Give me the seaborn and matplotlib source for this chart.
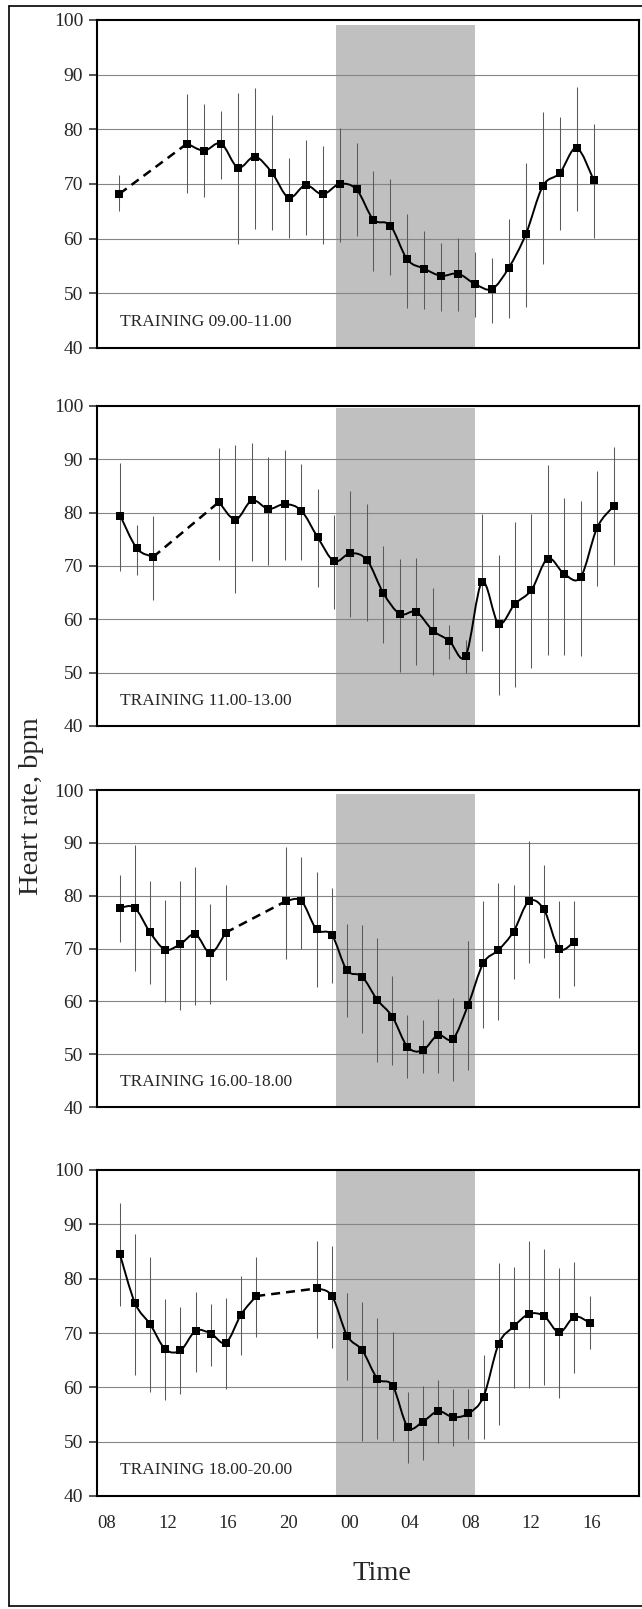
import numpy as np
import matplotlib
matplotlib.use("Agg")
import matplotlib.pyplot as plt
from matplotlib.path import Path
from matplotlib.patches import PathPatch
from matplotlib.lines import Line2D
import seaborn as sns

# heures (08 = 8, 00 = 24, 16 du lendemain = 40)
tick_pos = [8, 12, 16, 20, 24, 28, 32, 36, 40]
tick_labels = ["08", "12", "16", "20", "00", "04", "08", "12", "16"]
night = (23.15, 32.3)

titles = ["TRAINING 09.00-11.00", "TRAINING 11.00-13.00",
          "TRAINING 16.00-18.00", "TRAINING 18.00-20.00"]
shade_top = [99.0, 99.6, 99.3, 100.0]

# panneau 1 : entrainement 09-11
x1 = [8.84, 13.31, 14.43, 15.55, 16.66, 17.78, 18.90, 20.01, 21.13, 22.25, 23.37, 24.49, 25.60,
      26.72, 27.84, 28.96, 30.07, 31.19, 32.31, 33.43, 34.54, 35.66, 36.78, 37.90, 39.01, 40.13]
y1 = [68.2, 77.4, 76.1, 77.4, 73.0, 75.0, 72.1, 67.5, 69.8, 68.1, 70.0, 69.0, 63.5,
      62.4, 56.2, 54.5, 53.2, 53.6, 51.7, 50.8, 54.7, 60.8, 69.6, 72.0, 76.6, 70.8]
hi1 = [71.6, 86.4, 84.6, 83.4, 86.7, 87.6, 82.6, 74.7, 78.1, 76.9, 80.2, 77.5, 72.4,
       70.9, 64.5, 61.4, 59.2, 60.2, 57.5, 56.4, 63.6, 73.8, 83.1, 82.3, 87.8, 81.0]
lo1 = [65.0, 68.3, 67.7, 71.0, 59.1, 61.8, 61.5, 60.1, 60.6, 59.1, 59.4, 60.5, 54.1,
       53.4, 47.4, 47.1, 46.8, 46.7, 45.7, 44.6, 45.5, 47.5, 55.3, 61.5, 65.1, 60.2]

# panneau 2 : entrainement 11-13
x2 = [8.90, 9.99, 11.07, 15.41, 16.50, 17.58, 18.67, 19.75, 20.84, 21.92, 23.01, 24.09, 25.18, 26.26,
      27.35, 28.43, 29.52, 30.60, 31.69, 32.77, 33.86, 34.94, 36.03, 37.11, 38.20, 39.28, 40.37, 41.45]
y2 = [79.4, 73.3, 71.7, 82.0, 78.7, 82.3, 80.7, 81.6, 80.4, 75.4, 70.9, 72.4, 71.1, 64.9,
      61.0, 61.4, 57.9, 56.0, 53.1, 67.0, 59.2, 62.9, 65.5, 71.4, 68.5, 67.9, 77.2, 81.2]
hi2 = [89.4, 77.7, 79.3, 92.1, 92.7, 93.0, 90.4, 91.8, 89.1, 84.5, 79.5, 84.1, 81.7, 73.8,
       71.4, 71.5, 65.8, 59.0, 56.2, 79.8, 72.1, 78.2, 79.8, 89.0, 82.8, 82.2, 87.8, 92.3]
lo2 = [69.0, 68.3, 63.7, 71.2, 64.9, 70.9, 70.2, 71.1, 71.1, 66.0, 62.0, 60.4, 59.6, 55.6,
       50.1, 51.5, 49.5, 52.6, 49.9, 54.0, 45.8, 47.3, 50.9, 53.4, 53.4, 53.1, 66.2, 70.1]

# panneau 3 : entrainement 16-18
x3 = [8.85, 9.85, 10.85, 11.85, 12.85, 13.85, 14.85, 15.85, 19.85, 20.85, 21.85, 22.85, 23.85, 24.85,
      25.85, 26.85, 27.85, 28.85, 29.85, 30.85, 31.85, 32.85, 33.85, 34.85, 35.85, 36.85, 37.85, 38.85]
y3 = [77.7, 77.7, 73.1, 69.8, 70.8, 72.7, 69.1, 73.0, 79.0, 79.0, 73.6, 72.6, 65.9, 64.7,
      60.3, 57.1, 51.4, 50.7, 53.6, 52.9, 59.3, 67.2, 69.7, 73.2, 78.9, 77.4, 70.0, 71.3]
hi3 = [83.9, 89.5, 82.7, 79.1, 82.7, 85.5, 78.5, 82.0, 89.2, 87.3, 84.5, 81.4, 74.6, 74.4,
       71.9, 64.8, 57.5, 56.4, 60.4, 60.7, 71.4, 79.0, 82.4, 82.1, 90.3, 85.8, 79.0, 79.0]
lo3 = [71.3, 65.8, 63.3, 59.9, 58.4, 59.3, 59.5, 64.0, 68.1, 70.0, 62.7, 63.5, 57.0, 54.0,
       48.5, 48.0, 45.5, 46.5, 46.5, 45.0, 47.0, 55.0, 56.5, 64.2, 67.3, 68.2, 60.7, 62.9]

# panneau 4 : entrainement 18-20
x4 = [8.87, 9.87, 10.87, 11.87, 12.87, 13.87, 14.87, 15.87, 16.87, 17.87, 21.87, 22.87, 23.87, 24.87, 25.87,
      26.87, 27.87, 28.87, 29.87, 30.87, 31.87, 32.87, 33.87, 34.87, 35.87, 36.87, 37.87, 38.87, 39.87]
y4 = [84.5, 75.5, 71.6, 67.0, 66.8, 70.4, 69.9, 68.2, 73.4, 76.8, 78.2, 76.8, 69.5, 66.8, 61.6,
      60.3, 52.7, 53.7, 55.6, 54.5, 55.2, 58.3, 68.0, 71.2, 73.5, 73.1, 70.1, 73.0, 71.9]
hi4 = [94.0, 88.3, 84.0, 76.2, 74.7, 77.6, 75.3, 76.4, 80.5, 84.0, 87.0, 86.1, 77.3, 75.7, 72.7,
       70.1, 59.1, 60.3, 61.4, 59.7, 59.7, 66.0, 82.9, 82.2, 87.0, 85.5, 81.9, 83.1, 76.8]
lo4 = [75.0, 62.3, 59.1, 57.6, 58.8, 62.9, 64.0, 59.7, 66.0, 69.3, 69.1, 67.3, 61.4, 50.1, 50.4,
       50.1, 46.1, 46.7, 49.8, 49.2, 50.4, 50.4, 53.0, 59.9, 59.8, 60.5, 58.0, 62.7, 67.0]

panels = [(x1, y1, lo1, hi1), (x2, y2, lo2, hi2), (x3, y3, lo3, hi3), (x4, y4, lo4, hi4)]


def courbe_lissee(xs, ys):
    # spline type Excel (Catmull-Rom -> Bezier)
    n = len(xs)
    verts = [(xs[0], ys[0])]
    codes = [Path.MOVETO]
    for i in range(n - 1):
        a = i - 1 if i > 0 else i
        b = i + 2 if i + 2 < n else i + 1
        c1 = (xs[i] + (xs[i + 1] - xs[a]) / 6, ys[i] + (ys[i + 1] - ys[a]) / 6)
        c2 = (xs[i + 1] - (xs[b] - xs[i]) / 6, ys[i + 1] - (ys[b] - ys[i]) / 6)
        verts += [c1, c2, (xs[i + 1], ys[i + 1])]
        codes += [Path.CURVE4] * 3
    return Path(verts, codes)


sns.set_style("white")
plt.rcParams["font.family"] = ["Liberation Serif", "DejaVu Serif"]

W, H = 642, 1609
fig = plt.figure(figsize=(W / 100, H / 100), dpi=100)

# limites des panneaux en pixels (haut, bas)
boxes = [(20, 348), (406, 726), (790, 1107), (1170, 1496)]
left_px, right_px = 97, 639

for k, (xs, ys, lo, hi) in enumerate(panels):
    top, bot = boxes[k]
    ax = fig.add_axes([left_px / W, 1 - bot / H, (right_px - left_px) / W, (bot - top) / H])
    ax.set_xlim(7.36, 43.13)
    ax.set_ylim(40, 100)

    ax.fill_between(night, 40, shade_top[k], color="#c0c0c0", linewidth=0, zorder=1)
    for g in [50, 60, 70, 80, 90]:
        ax.axhline(g, color="#858585", lw=0.8, zorder=2)

    xs = np.array(xs)
    ys = np.array(ys)
    ax.vlines(xs, lo, hi, color="#5a5a5a", lw=0.75, zorder=3)

    # segments continus lisses, trou en pointillés
    cut = np.where(np.diff(xs) > 2)[0]
    starts = [0] + list(cut + 1)
    ends = list(cut + 1) + [len(xs)]
    for s, e in zip(starts, ends):
        if e - s > 1:
            ax.add_patch(PathPatch(courbe_lissee(xs[s:e], ys[s:e]), fill=False,
                                   edgecolor="black", lw=1.4, zorder=4))
    for c in cut:
        ax.plot(xs[c:c + 2], ys[c:c + 2], color="black", lw=1.8,
                linestyle=(0, (3.6, 2.4)), zorder=4)

    sns.scatterplot(x=xs, y=ys, marker="s", s=26, color="black", linewidth=0, ax=ax, zorder=5)

    ax.text(8.9, 44.7, titles[k], fontsize=12.5, va="center", ha="left", zorder=6)

    ax.set_yticks([40, 50, 60, 70, 80, 90, 100])
    ax.tick_params(axis="y", direction="out", length=6, width=1.1, pad=4, labelsize=14, left=True)
    if k == 3:
        ax.set_xticks(tick_pos)
        ax.set_xticklabels(tick_labels)
        ax.tick_params(axis="x", length=0, pad=14, labelsize=13.5)
    else:
        ax.set_xticks([])
    for sp in ax.spines.values():
        sp.set_color("black")
        sp.set_linewidth(1.5)
        sp.set_zorder(7)
    ax.set_xlabel("")
    ax.set_ylabel("")

fig.text(32 / W, 1 - 806 / H, "Heart rate, bpm", rotation=90, fontsize=20.5, ha="center", va="center")
fig.text(382 / W, 1 - 1574 / H, "Time", fontsize=20.5, ha="center", va="center")

# cadre de la figure
fig.add_artist(Line2D([9 / W, 9 / W], [1 - 6 / H, 1 - 1606 / H], transform=fig.transFigure, color="black", lw=1.2))
fig.add_artist(Line2D([9 / W, 1], [1 - 6 / H, 1 - 6 / H], transform=fig.transFigure, color="black", lw=1.2))
fig.add_artist(Line2D([9 / W, 1], [1 - 1606 / H, 1 - 1606 / H], transform=fig.transFigure, color="black", lw=1.2))

fig.savefig("out.png", dpi=100)
